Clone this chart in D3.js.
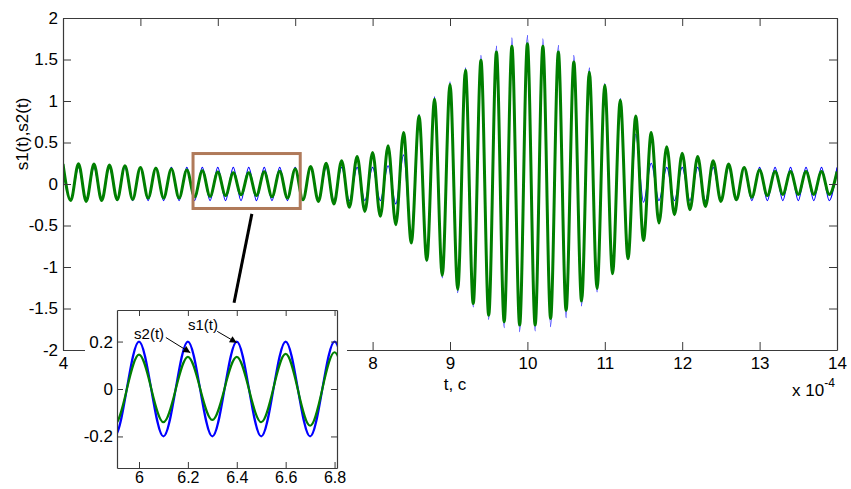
<!DOCTYPE html>
<html><head><meta charset="utf-8">
<script src="https://cdn.jsdelivr.net/npm/d3@7/dist/d3.min.js"></script>
<style>
html,body{margin:0;padding:0;background:#fff;}
svg{display:block;font-family:"Liberation Sans",Arial,sans-serif;}
</style></head>
<body>
<svg id="c" width="851" height="489"></svg>
<script>
// extrema times (x 1e-4 s): one peak/trough every 0.1
const tExt = [4.0,4.1,4.2,4.3,4.4,4.5,4.6,4.7,4.8,4.9,
5.0,5.1,5.2,5.3,5.4,5.5,5.6,5.7,5.8,5.9,
6.0,6.1,6.2,6.3,6.4,6.5,6.6,6.7,6.8,6.9,
7.0,7.1,7.2,7.3,7.4,7.5,7.6,7.7,7.8,7.9,
8.0,8.1,8.2,8.3,8.4,8.5,8.6,8.7,8.8,8.9,
9.0,9.1,9.2,9.3,9.4,9.5,9.6,9.7,9.8,9.9,
10.0,10.1,10.2,10.3,10.4,10.5,10.6,10.7,10.8,10.9,
11.0,11.1,11.2,11.3,11.4,11.5,11.6,11.7,11.8,11.9,
12.0,12.1,12.2,12.3,12.4,12.5,12.6,12.7,12.8,12.9,
13.0,13.1,13.2,13.3,13.4,13.5,13.6,13.7,13.8,13.9,14.0];

// s1(t) extrema values (blue)
const s1 = [0.2,-0.2,0.2,-0.2,0.2,-0.2,0.2,-0.2,0.2,-0.2,
0.2,-0.2,0.2,-0.2,0.2,-0.2,0.2,-0.2,0.2,-0.2,
0.2,-0.2,0.2,-0.2,0.2,-0.2,0.2,-0.2,0.2,-0.2,
0.2,-0.2,0.2,-0.2,0.2,-0.2,0.2,-0.2,0.2,-0.2,
0.2,-0.2,0.22,-0.24,0.35,-0.62,0.84,-0.93,1.05,-1.13,
1.23,-1.31,1.40,-1.48,1.55,-1.63,1.66,-1.73,1.76,-1.78,
1.79,-1.77,1.75,-1.72,1.67,-1.61,1.55,-1.47,1.40,-1.30,
1.21,-1.09,1.03,-0.85,0.60,-0.22,0.25,-0.2,0.2,-0.2,
0.2,-0.2,0.2,-0.2,0.2,-0.2,0.2,-0.2,0.2,-0.2,
0.2,-0.2,0.2,-0.2,0.2,-0.2,0.2,-0.2,0.2,-0.2,0.2];

// s2(t) extrema values (green)
const s2 = [0.24,-0.20,0.245,-0.21,0.24,-0.20,0.23,-0.19,0.22,-0.185,
0.20,-0.17,0.19,-0.17,0.18,-0.17,0.17,-0.155,0.16,-0.15,
0.145,-0.14,0.135,-0.13,0.135,-0.14,0.148,-0.155,0.155,-0.17,
0.18,-0.19,0.21,-0.21,0.25,-0.24,0.28,-0.28,0.33,-0.33,
0.38,-0.39,0.46,-0.49,0.62,-0.71,0.82,-0.92,1.02,-1.10,
1.20,-1.27,1.37,-1.44,1.49,-1.58,1.59,-1.66,1.66,-1.70,
1.69,-1.70,1.66,-1.62,1.59,-1.52,1.47,-1.41,1.35,-1.26,
1.19,-1.08,1.01,-0.90,0.82,-0.68,0.62,-0.47,0.45,-0.37,
0.37,-0.31,0.33,-0.27,0.28,-0.21,0.24,-0.19,0.20,-0.16,
0.17,-0.14,0.15,-0.125,0.15,-0.125,0.15,-0.125,0.15,-0.125,0.15];

const xTicks = [4,5,6,7,8,9,10,11,12,13,14];
const yTicks = [-2,-1.5,-1,-0.5,0,0.5,1,1.5,2];
const xTicksInset = [6,6.2,6.4,6.6,6.8];
const yTicksInset = [-0.2,0,0.2];

const svg = d3.select("#c");
const W = 851, H = 489;
const FONT = 17;
const axisColor = "#3a3a3a";

// main scales
const x = d3.scaleLinear().domain([4,14]).range([63,837]);
const y = d3.scaleLinear().domain([-2,2]).range([350,18]);

const d1 = tExt.map((t,i)=>({t, v:s1[i]}));
const d2 = tExt.map((t,i)=>({t, v:s2[i]}));

svg.append("defs").append("clipPath").attr("id","mainClip")
  .append("rect").attr("x",63).attr("y",18).attr("width",774).attr("height",332);

const lineMain = d3.line().x(d=>x(d.t)).y(d=>y(d.v)).curve(d3.curveMonotoneX);
const gm = svg.append("g").attr("clip-path","url(#mainClip)");
gm.append("path").datum(d1).attr("d",lineMain).attr("fill","none")
  .attr("stroke","#0000ff").attr("stroke-width",1.2);
gm.append("path").datum(d2).attr("d",lineMain).attr("fill","none")
  .attr("stroke","#007f00").attr("stroke-width",3);

function styleAxis(g, showText){
  g.select(".domain").attr("stroke",axisColor).attr("stroke-width",1.2);
  g.selectAll(".tick line").attr("stroke",axisColor).attr("stroke-width",1);
  g.selectAll(".tick text").attr("fill","#000").style("font-size",FONT+"px")
    .style("font-family","'Liberation Sans',Arial,sans-serif");
  if(!showText) g.selectAll(".tick text").remove();
}
const fmt = d3.format("");
const gx = svg.append("g").attr("transform",`translate(0,${y(-2)})`)
  .call(d3.axisBottom(x).tickValues(xTicks).tickSizeInner(-8).tickSizeOuter(0).tickPadding(7).tickFormat(fmt));
styleAxis(gx,true);
const gxt = svg.append("g").attr("transform",`translate(0,${y(2)})`)
  .call(d3.axisTop(x).tickValues(xTicks).tickSizeInner(-8).tickSizeOuter(0));
styleAxis(gxt,false);
const gy = svg.append("g").attr("transform",`translate(${x(4)},0)`)
  .call(d3.axisLeft(y).tickValues(yTicks).tickSizeInner(-8).tickSizeOuter(0).tickPadding(5).tickFormat(fmt));
styleAxis(gy,true);
gy.selectAll(".tick text").text(d=>String(d));
const gyr = svg.append("g").attr("transform",`translate(${x(14)},0)`)
  .call(d3.axisRight(y).tickValues(yTicks).tickSizeInner(-8).tickSizeOuter(0));
styleAxis(gyr,false);

// axis labels
svg.append("text").attr("x",455).attr("y",390).attr("text-anchor","middle")
  .style("font-size",FONT+"px").text("t, c");
const ex = svg.append("text").attr("x",792).attr("y",396).style("font-size",FONT+"px");
ex.append("tspan").text("x 10");
ex.append("tspan").attr("dy",-9).style("font-size","12px").text("-4");
svg.append("text").attr("transform","translate(28,134) rotate(-90)")
  .attr("text-anchor","middle").style("font-size",FONT+"px").text("s1(t),s2(t)");

// zoom box (data coordinates)
const zoomBox = {t0:5.68, t1:7.065, v0:-0.295, v1:0.367};
svg.append("rect")
  .attr("x",x(zoomBox.t0)).attr("y",y(zoomBox.v1))
  .attr("width",x(zoomBox.t1)-x(zoomBox.t0)).attr("height",y(zoomBox.v0)-y(zoomBox.v1))
  .attr("fill","none").attr("stroke","#b07a5a").attr("stroke-width",3);
// connector
svg.append("line").attr("x1",x(6.44)).attr("y1",y(-0.36)).attr("x2",x(6.21)).attr("y2",y(-1.43))
  .attr("stroke","#000").attr("stroke-width",3);

// inset
const xi = d3.scaleLinear().domain([5.91,6.81]).range([117,337]);
const yi = d3.scaleLinear().domain([-0.333,0.333]).range([468,310]);
svg.append("rect").attr("x",85).attr("y",305).attr("width",262).attr("height",H-305).attr("fill","#fff");
svg.append("defs").append("clipPath").attr("id","insetClip")
  .append("rect").attr("x",117).attr("y",310).attr("width",220).attr("height",158);
const lineIn = d3.line().x(d=>xi(d.t)).y(d=>yi(d.v)).curve(d3.curveMonotoneX);
const gi = svg.append("g").attr("clip-path","url(#insetClip)");
gi.append("path").datum(d1).attr("d",lineIn).attr("fill","none")
  .attr("stroke","#0000ff").attr("stroke-width",2.2);
gi.append("path").datum(d2).attr("d",lineIn).attr("fill","none")
  .attr("stroke","#007f00").attr("stroke-width",2.2);

const gix = svg.append("g").attr("transform",`translate(0,468)`)
  .call(d3.axisBottom(xi).tickValues(xTicksInset).tickSizeInner(-6).tickSizeOuter(0).tickPadding(4).tickFormat(fmt));
styleAxis(gix,true);
gix.selectAll(".tick text").style("font-size","16px");
const gixt = svg.append("g").attr("transform",`translate(0,310)`)
  .call(d3.axisTop(xi).tickValues(xTicksInset).tickSizeInner(-6).tickSizeOuter(0));
styleAxis(gixt,false);
const giy = svg.append("g").attr("transform",`translate(117,0)`)
  .call(d3.axisLeft(yi).tickValues(yTicksInset).tickSizeInner(-6).tickSizeOuter(0).tickPadding(4).tickFormat(fmt));
styleAxis(giy,true);
giy.selectAll(".tick text").text(d=>String(d));
const giyr = svg.append("g").attr("transform",`translate(337,0)`)
  .call(d3.axisRight(yi).tickValues(yTicksInset).tickSizeInner(-6).tickSizeOuter(0));
styleAxis(giyr,false);

// annotations
const defs = svg.append("defs");
defs.append("marker").attr("id","arr").attr("viewBox","0 0 10 10").attr("refX",10).attr("refY",5)
  .attr("markerWidth",9).attr("markerHeight",7).attr("orient","auto").attr("markerUnits","userSpaceOnUse")
  .append("path").attr("d","M0,0 L10,5 L0,10 z").attr("fill","#000");
svg.append("text").attr("x",xi(5.98)).attr("y",yi(0.21)).style("font-size","15px").text("s2(t)");
svg.append("text").attr("x",xi(6.2)).attr("y",yi(0.25)).style("font-size","15px").text("s1(t)");
svg.append("line").attr("x1",xi(6.11)).attr("y1",yi(0.217)).attr("x2",xi(6.21)).attr("y2",yi(0.153))
  .attr("stroke","#000").attr("stroke-width",1).attr("marker-end","url(#arr)");
svg.append("line").attr("x1",xi(6.32)).attr("y1",yi(0.243)).attr("x2",xi(6.40)).attr("y2",yi(0.195))
  .attr("stroke","#000").attr("stroke-width",1).attr("marker-end","url(#arr)");
</script>
</body></html>
